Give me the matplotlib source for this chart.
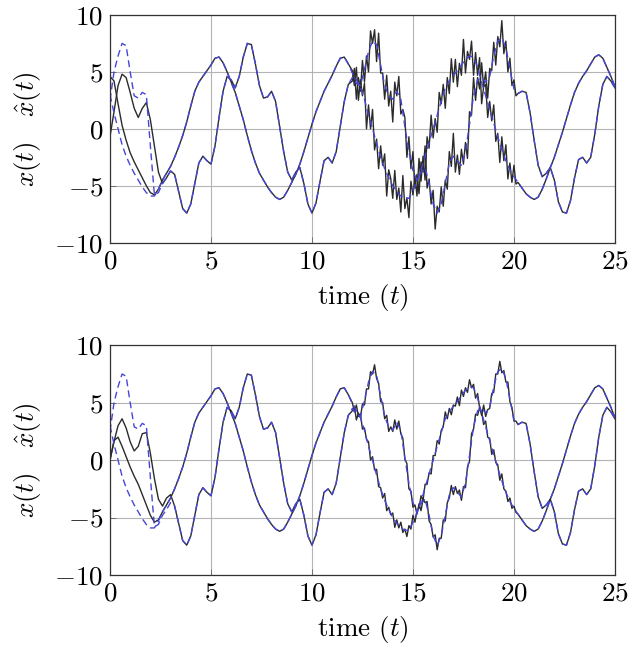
import numpy as np
import matplotlib.pyplot as plt

plt.rcParams['mathtext.fontset'] = 'cm'
plt.rcParams['font.family'] = 'serif'
plt.rcParams['font.serif'] = ['cmr10', 'DejaVu Serif']
plt.rcParams['axes.unicode_minus'] = False

# time grid, 0.2 s apart
t = np.linspace(0, 25, 126)
# finer grid for the noisy stretch 12.0 .. 20.2
t_fine = np.linspace(12, 20.2, 83)

# state 1 (true)
P = [4.6, 4.2, 2.2, 0.3, -1.0, -2.1, -2.9, -3.6, -4.3, -5.0,
     -5.6, -5.8, -5.3, -4.5, -3.9, -3.3, -2.5, -1.6, -0.6, 0.6,
     2.0, 3.3, 4.1, 4.6, 5.1, 5.6, 6.2, 6.3, 5.8, 5.0,
     4.1, 3.2, 2.0, 0.8, -0.6, -1.9, -3.0, -3.9, -4.5, -5.1,
     -5.6, -6.0, -6.2, -6.0, -5.4, -4.7, -4.0, -3.1, -2.0, -0.8,
     0.4, 1.5, 2.4, 3.3, 4.0, 4.7, 5.5, 6.2, 6.3, 5.7,
     4.9, 4.3, 3.7, 2.6, 1.2, 0.0, -1.3, -2.5, -3.5, -4.3,
     -5.0, -5.5, -5.9, -6.1, -6.1, -5.4, -4.6, -3.6, -2.4, -1.2,
     0.0, 1.2, 2.4, 3.6, 4.2, 4.7, 5.1, 5.6, 6.1, 6.4,
     6.3, 5.4, 4.1, 2.9, 1.7, 0.5, -0.7, -1.8, -2.8, -3.6,
     -4.2, -4.7, -5.2, -5.7, -6.0, -6.2, -6.0, -5.3, -4.4, -3.4,
     -2.5, -1.4, -0.3, 0.9, 2.1, 3.2, 4.0, 4.6, 5.1, 5.7,
     6.3, 6.5, 6.2, 5.4, 4.6, 3.7]
# state 1 in between the grid points, t = 12.1, 12.3 .. 20.1
P_mid = [4.6, 4.0, 3.2, 1.9, 0.6, -0.65, -1.9, -3.0, -3.9, -4.65,
         -5.25, -5.7, -6.0, -6.15, -5.8, -5.0, -4.1, -3.0, -1.8, -0.6,
         0.6, 1.8, 3.0, 3.9, 4.45, 4.9, 5.35, 5.85, 6.3, 6.4,
         5.9, 4.75, 3.5, 2.3, 1.1, -0.1, -1.25, -2.3, -3.2, -3.9,
         -4.45]

# state 2 (true)
Q = [-0.7, 1.5, 3.8, 4.8, 4.5, 3.2, 1.8, 1.0, 1.8, 2.3,
     0.8, -1.5, -3.8, -4.8, -4.3, -3.7, -4.0, -5.5, -7.0, -7.4,
     -6.6, -4.8, -3.0, -2.4, -2.8, -3.1, -1.5, 1.0, 3.3, 4.6,
     4.3, 3.6, 4.6, 6.3, 7.5, 7.4, 5.7, 3.8, 2.7, 2.8,
     3.3, 2.4, 0.2, -2.0, -3.8, -4.5, -3.8, -3.4, -4.8, -6.6,
     -7.4, -6.5, -4.6, -2.8, -2.5, -3.0, -2.0, 0.2, 2.4, 3.9,
     4.5, 4.0, 3.8, 5.2, 6.8, 7.7, 7.4, 5.6, 3.8, 2.9,
     2.6, 3.3, 2.6, 0.2, -2.0, -3.7, -4.5, -3.8, -3.4, -4.8,
     -6.6, -7.4, -6.6, -4.8, -3.0, -2.4, -2.8, -3.2, -2.0, 0.4,
     2.9, 4.3, 4.5, 4.1, 4.6, 6.4, 7.7, 8.0, 7.1, 5.3,
     3.5, 3.1, 3.3, 3.2, 1.4, -1.0, -3.2, -4.2, -3.9, -3.4,
     -4.5, -6.4, -7.3, -7.4, -6.3, -4.3, -2.7, -2.5, -3.0, -2.5,
     -0.5, 2.0, 3.9, 4.6, 4.2, 3.6]
Q_mid = [4.3, 3.8, 4.4, 6.0, 7.4, 7.8, 6.6, 4.6, 3.3, 2.7,
         3.0, 3.1, 1.5, -0.9, -2.9, -4.2, -4.3, -3.5, -4.0, -5.8,
         -7.1, -7.1, -5.7, -3.8, -2.6, -2.5, -3.1, -2.7, -0.8, 1.7,
         3.7, 4.5, 4.3, 4.2, 5.4, 7.2, 8.0, 7.7, 6.3, 4.3,
         3.2]

# start of the estimates (t = 0 .. 3), same in both panels
P_est_start = [3.0, 1.4, 0.0, -1.4, -2.4, -3.2, -3.9, -4.5, -5.1, -5.6,
               -5.9, -5.9, -5.3, -4.5, -3.9, -3.3]
Q_est_start = [2.5, 5.0, 6.4, 7.5, 7.3, 5.0, 2.9, 2.7, 3.2, 3.0,
               -1.5, -5.8, -5.6, -4.8, -4.3, -3.7]

# start of the true states in the lower panel
P_bot_start = [0.0, 1.7, 2.0, 1.2, 0.3, -0.6, -1.4, -2.1, -3.0, -3.9,
               -4.8, -5.4, -5.2, -4.5, -3.9, -3.3]
Q_bot_start = [0.0, 1.6, 3.0, 3.6, 2.8, 1.6, 0.8, 1.2, 2.3, 2.4,
               0.6, -1.6, -3.4, -4.0, -3.3, -3.0]

# jitter on the true states over t_fine
nP_top = [0.2, -0.8, 1.1, -1.5, 0.6, -0.3, 1.4, -1.9, 0.9, -0.6,
          1.7, -1.2, 0.4, -1.6, 1.0, -0.2, 1.3, -2.0, 0.7, 0.3,
          -1.1, 1.6, -0.7, 0.5, -1.4, 1.9, -0.9, 0.1, -1.7, 1.2,
          -0.4, 0.8, -1.3, 1.5, -1.0, 0.6, -2.1, 1.1, -0.5, 1.8,
          -0.8, 0.3, -1.5, 1.4, -0.2, 0.9, -1.8, 0.6, -1.1, 1.7,
          -0.6, 1.2, -1.4, 0.4, -0.9, 2.0, -1.2, 0.5, -0.3, 1.3,
          -1.6, 0.8, -0.7, 1.5, -1.9, 0.2, 1.0, -1.3, 0.7, -0.4,
          1.6, -1.0, 0.3, -1.7, 1.1, -0.5, 1.4, -1.2, 0.6, -0.8,
          1.0, -0.4, 0.0]
nQ_top = [-0.3, 1.0, -1.4, 0.7, -0.5, 1.6, -1.1, 0.4, -1.8, 1.2,
          -0.2, 0.9, -1.5, 1.8, -0.7, 0.3, -1.2, 1.4, -0.9, 0.6,
          -2.0, 1.1, -0.4, 1.5, -1.3, 0.2, 0.8, -1.6, 1.3, -0.6,
          1.7, -1.0, 0.5, -1.4, 0.9, -0.3, 1.9, -1.2, 0.4, -0.8,
          1.2, -1.7, 0.6, -0.2, 1.5, -1.1, 0.3, -1.5, 1.0, -0.7,
          2.0, -1.3, 0.5, -0.9, 1.4, -0.4, 0.8, -1.8, 1.1, -0.5,
          1.6, -1.2, 0.2, -1.0, 1.3, -0.6, 0.9, -1.5, 0.7, -0.3,
          1.2, -1.6, 0.4, -0.8, 1.5, -1.1, 0.6, -1.3, 0.9, -0.5,
          0.8, -0.3, 0.0]
nP_bot = [0.1, -0.4, 0.5, -0.2, 0.3, -0.5, 0.2, -0.1, 0.4, -0.6,
          0.3, -0.2, 0.5, -0.4, 0.1, -0.3, 0.6, -0.5, 0.2, -0.1,
          0.4, -0.6, 0.3, -0.2, 0.5, -0.3, 0.1, -0.5, 0.4, -0.2,
          0.6, -0.4, 0.2, -0.1, 0.5, -0.5, 0.3, -0.3, 0.1, -0.6,
          0.4, -0.2, 0.5, -0.4, 0.2, -0.1, 0.6, -0.3, 0.3, -0.5,
          0.1, -0.2, 0.4, -0.6, 0.5, -0.3, 0.2, -0.4, 0.6, -0.1,
          0.3, -0.5, 0.4, -0.2, 0.1, -0.4, 0.5, -0.3, 0.2, -0.6,
          0.4, -0.1, 0.3, -0.5, 0.6, -0.2, 0.1, -0.4, 0.3, -0.3,
          0.2, -0.1, 0.0]
nQ_bot = [-0.2, 0.4, -0.5, 0.3, -0.1, 0.5, -0.4, 0.2, -0.6, 0.3,
          -0.2, 0.5, -0.3, 0.1, -0.5, 0.4, -0.2, 0.6, -0.4, 0.2,
          -0.1, 0.5, -0.6, 0.3, -0.3, 0.4, -0.1, 0.6, -0.5, 0.2,
          -0.4, 0.3, -0.2, 0.5, -0.6, 0.1, -0.3, 0.4, -0.5, 0.2,
          -0.1, 0.6, -0.4, 0.3, -0.2, 0.5, -0.5, 0.1, -0.3, 0.4,
          -0.6, 0.2, -0.1, 0.5, -0.3, 0.4, -0.4, 0.2, -0.5, 0.6,
          -0.2, 0.3, -0.4, 0.1, -0.6, 0.5, -0.3, 0.2, -0.1, 0.4,
          -0.5, 0.3, -0.2, 0.6, -0.4, 0.1, -0.3, 0.5, -0.2, 0.3,
          -0.1, 0.2, 0.0]

xticks = [0, 5, 10, 15, 20, 25]
yticks = [-10, -5, 0, 5, 10]

P = np.array(P)
Q = np.array(Q)
P_est = np.concatenate([P_est_start, P[16:]])
Q_est = np.concatenate([Q_est_start, Q[16:]])


def fine(grid, mid):
    # grid values at 12.0, 12.2 .. 20.2 woven with the in-between ones
    out = np.empty(83)
    out[0::2] = grid[60:102]
    out[1::2] = mid
    return out


P_fine = fine(P, P_mid)
Q_fine = fine(Q, Q_mid)
t_black = np.concatenate([t[:60], t_fine, t[102:]])


def true_state(base, base_fine, start, noise):
    head = np.array(base[:60], dtype=float)
    head[:len(start)] = start
    return np.concatenate([head, base_fine + np.array(noise), base[102:]])


panels = [
    (true_state(P, P_fine, P[:16], nP_top), true_state(Q, Q_fine, Q[:16], nQ_top)),
    (true_state(P, P_fine, P_bot_start, nP_bot), true_state(Q, Q_fine, Q_bot_start, nQ_bot)),
]

fig = plt.figure(figsize=(6.32, 6.49), dpi=100)
rects = [[0.174, 0.626, 0.799, 0.351], [0.174, 0.114, 0.799, 0.354]]
fs = 19.5
black = '#2b2b2b'
blue = '#4646d8'

for rect, (p_true, q_true) in zip(rects, panels):
    ax = fig.add_axes(rect)
    ax.plot(t_black, p_true, color=black, lw=1.0)
    ax.plot(t_black, q_true, color=black, lw=1.0)
    ax.plot(t, P_est, color=blue, lw=1.0, dashes=(5, 3))
    ax.plot(t, Q_est, color=blue, lw=1.0, dashes=(5, 3))
    ax.set_xlim(0, 25)
    ax.set_ylim(-10, 10)
    ax.set_xticks(xticks, [f'${v}$' for v in xticks], fontsize=fs)
    ax.set_yticks(yticks, [f'${v}$' for v in yticks], fontsize=fs)
    ax.tick_params(direction='in', length=4, color='#666666', width=0.6, pad=5)
    ax.grid(True, color='#b4b4b4', lw=0.8)
    ax.set_axisbelow(True)
    for s in ax.spines.values():
        s.set_color('#333333')
        s.set_linewidth(0.9)
    ax.set_xlabel('time ($t$)', fontsize=fs, labelpad=6)
    ax.set_ylabel(r'$x(t)\quad\hat{x}(t)$', fontsize=fs, labelpad=8)

fig.savefig('out.png', dpi=100)
